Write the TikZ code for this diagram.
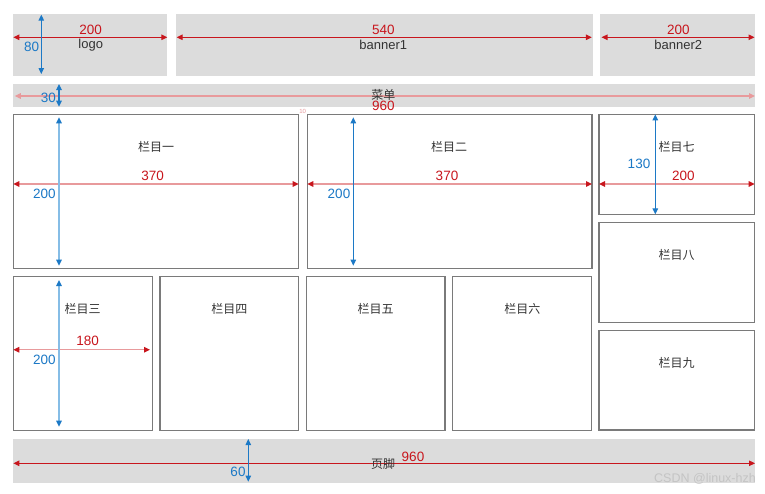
\documentclass[tikz,border=0pt]{standalone}
\usepackage{fontspec}
\setmainfont{Liberation Sans}
\newfontfamily\cjk{Noto Sans CJK SC}
\usetikzlibrary{arrows.meta}
\definecolor{boxgray}{HTML}{DCDCDC}
\definecolor{edgegray}{HTML}{7A7A7A}
\definecolor{dimred}{HTML}{C8161D}
\definecolor{dimpink}{HTML}{E89A9C}
\definecolor{dimblue}{HTML}{1C79C6}
\definecolor{dimlblue}{HTML}{86BDE6}
\definecolor{txt}{HTML}{333333}
\definecolor{wm}{HTML}{C4C4C4}
\begin{document}
\begin{tikzpicture}[x=1pt,y=-1pt,
  graybox/.style={fill=boxgray, draw=none, anchor=north west, inner sep=0, outer sep=0},
  colbox/.style={draw=edgegray, line width=1.3pt, fill=white, anchor=north west, inner sep=0, outer sep=0},
  cjklabel/.style={font=\cjk\fontsize{12}{12}\selectfont, text=txt, inner sep=0},
  enlabel/.style={font=\fontsize{13}{13}\selectfont, text=txt, inner sep=0},
  rednum/.style={font=\fontsize{13.5}{13.5}\selectfont, text=dimred, inner sep=0},
  bluenum/.style={font=\fontsize{13.5}{13.5}\selectfont, text=dimblue, inner sep=0},
  redarr/.style={draw=dimred, line width=1.1pt, {Triangle[length=6pt,width=5.5pt]}-{Triangle[length=6pt,width=5.5pt]}},
  redarrlight/.style={draw=dimpink, line width=2pt, {Triangle[length=6pt,width=5.5pt,color=dimred]}-{Triangle[length=6pt,width=5.5pt,color=dimred]}},
  pinkarr/.style={draw=dimpink, line width=1.1pt, {Triangle[length=6pt,width=5.5pt]}-{Triangle[length=6pt,width=5.5pt]}},
  bluearr/.style={draw=dimblue, line width=1.1pt, {Triangle[length=6pt,width=5.5pt]}-{Triangle[length=6pt,width=5.5pt]}},
  bluearrlight/.style={draw=dimlblue, line width=1.6pt, {Triangle[length=6pt,width=5.5pt,color=dimblue]}-{Triangle[length=6pt,width=5.5pt,color=dimblue]}},
]
\useasboundingbox (0,0) rectangle (765,493);
\fill[white] (0,0) rectangle (765,493);
% gray bands
\node[graybox, minimum width=154, minimum height=61.5] (logo) at (13.3,14) {};
\node[graybox, minimum width=417.6, minimum height=61.5] (banner1) at (175.7,14) {};
\node[graybox, minimum width=155, minimum height=61.5] (banner2) at (600,14) {};
\node[graybox, minimum width=741.7, minimum height=22.7] (menu) at (13.3,84) {};
\node[graybox, minimum width=741.7, minimum height=44.3] (footer) at (13.3,439) {};
% columns
\node[colbox, minimum width=285.4, minimum height=154] (c1) at (13.3,114.3) {};
\node[colbox, minimum width=284.7, minimum height=154] (c2) at (307.3,114.3) {};
\node[colbox, minimum width=155.7, minimum height=100] (c7) at (599,114.3) {};
\node[colbox, minimum width=155.7, minimum height=99.6] (c8) at (599,222.7) {};
\node[colbox, minimum width=155.7, minimum height=99.3] (c9) at (599,330.7) {};
\node[colbox, minimum width=139.4, minimum height=153.6] (c3) at (13.3,276.7) {};
\node[colbox, minimum width=138.7, minimum height=153.6] (c4) at (160,276.7) {};
\node[colbox, minimum width=138.3, minimum height=153.6] (c5) at (306.7,276.7) {};
\node[colbox, minimum width=139, minimum height=153.6] (c6) at (452.7,276.7) {};
% horizontal dimension arrows
\draw[redarr] ([yshift=7.45pt]logo.west) -- ([yshift=7.45pt]logo.east);
\draw[redarr] ([yshift=7.45pt,xshift=1pt]banner1.west) -- ([yshift=7.45pt,xshift=-1.5pt]banner1.east);
\draw[redarr] ([yshift=7.45pt,xshift=1.5pt]banner2.west) -- ([yshift=7.45pt,xshift=-0.5pt]banner2.east);
\draw[pinkarr] ([yshift=-0.65pt,xshift=1.5pt]menu.west) -- ([yshift=-0.65pt]menu.east);
\draw[redarrlight] ([yshift=7.3pt]c1.west) -- ([yshift=7.3pt]c1.east);
\draw[redarrlight] ([yshift=7.3pt]c2.west) -- ([yshift=7.3pt]c2.east);
\draw[redarrlight] ([yshift=-19.7pt]c7.west) -- ([yshift=-19.7pt]c7.east);
\draw[redarrlight, line width=1.3pt] ([yshift=3.8pt]c3.west) -- ([yshift=3.8pt,xshift=-2.7pt]c3.east);
\draw[redarr] ([yshift=-2.15pt]footer.west) -- ([yshift=-2.15pt]footer.east);
% vertical dimension arrows
\draw[bluearr] ([xshift=-49pt,yshift=-0.7pt]logo.north) -- ([xshift=-49pt,yshift=1.5pt]logo.south);
\draw[bluearr] ([xshift=-325.15pt]menu.north) -- ([xshift=-325.15pt]menu.south);
\draw[bluearrlight] ([xshift=-97pt,yshift=-3pt]c1.north) -- ([xshift=-97pt,yshift=2.6pt]c1.south);
\draw[bluearr] ([xshift=-96.35pt,yshift=-3pt]c2.north) -- ([xshift=-96.35pt,yshift=2.6pt]c2.south);
\draw[bluearr] ([xshift=-21.55pt]c7.north) -- ([xshift=-21.55pt]c7.south);
\draw[bluearrlight] ([xshift=-24pt,yshift=-3.3pt]c3.north) -- ([xshift=-24pt,yshift=3.6pt]c3.south);
\draw[bluearr] ([xshift=-135.85pt]footer.north) -- ([xshift=-135.85pt,yshift=1.6pt]footer.south);
% texts top row
\node[rednum] (t200a) at (90.7,30) {200};
\node[enlabel] (tlogo) at (90.7,45.3) {logo};
\node[bluenum] (t80) at (31.7,47.3) {80};
\node[rednum] (t540) at (383.3,30) {540};
\node[enlabel] (tb1) at (383.3,45.3) {banner1};
\node[rednum] (t200b) at (678.3,30) {200};
\node[enlabel] (tb2) at (678.3,45.3) {banner2};
% menu
\node[bluenum] (t30) at (48.3,98) {30};
\node[cjklabel] (tmenu) at (383.3,95) {菜单};
\node[rednum] (t960a) at (383.3,106) {960};
\node[font=\fontsize{6}{6}\selectfont, text=dimpink, inner sep=0] (t10) at (302.7,111.3) {10};
% columns text
\node[cjklabel] (tc1) at (156,146.7) {栏目一};
\node[rednum] (t370a) at (152.7,176) {370};
\node[bluenum] (t200c) at (44.3,194.3) {200};
\node[cjklabel] (tc2) at (449,147.3) {栏目二};
\node[rednum] (t370b) at (447,176) {370};
\node[bluenum] (t200d) at (339,194.3) {200};
\node[cjklabel] (tc7) at (676.7,147.3) {栏目七};
\node[bluenum] (t130) at (639,164.3) {130};
\node[rednum] (t200e) at (683.3,176) {200};
\node[cjklabel] (tc8) at (676.7,255) {栏目八};
\node[cjklabel] (tc9) at (676.7,363.3) {栏目九};
\node[cjklabel] (tc3) at (82.7,309) {栏目三};
\node[rednum] (t180) at (87.7,341) {180};
\node[bluenum] (t200f) at (44.3,360) {200};
\node[cjklabel] (tc4) at (229.3,309) {栏目四};
\node[cjklabel] (tc5) at (375.7,309) {栏目五};
\node[cjklabel] (tc6) at (522.3,309) {栏目六};
% footer
\node[cjklabel] (tfoot) at (383,463.5) {页脚};
\node[rednum] (t960b) at (413,457) {960};
\node[bluenum] (t60) at (238,472) {60};
\node[font=\fontsize{12.5}{12.5}\selectfont, text=wm, inner sep=0, anchor=east] (twm) at (756,479) {CSDN @linux-hzh};
\end{tikzpicture}
\end{document}
